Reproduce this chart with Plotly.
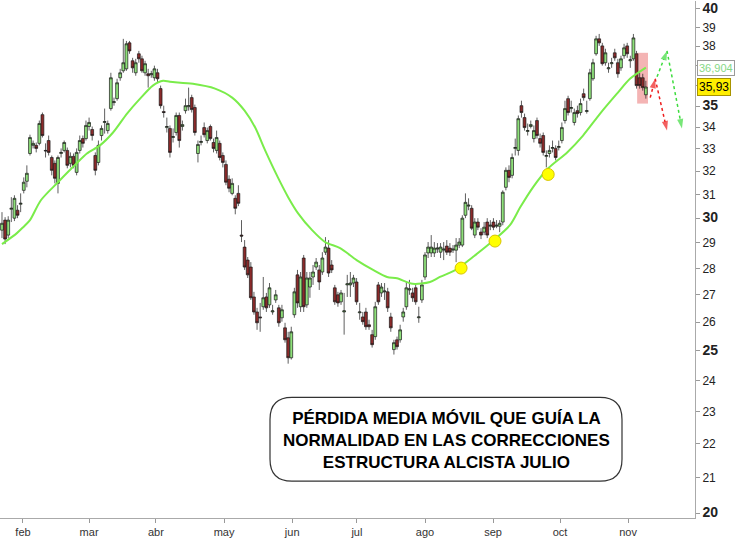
import math
import plotly.graph_objects as go

# ---------------- data ----------------
months = ["feb", "mar", "abr", "may", "jun", "jul", "ago", "sep", "oct", "nov"]
month_pos = [6.75, 28.0, 49.5, 71.4, 93.3, 114.1, 136.0, 157.9, 179.4, 201.3]

opens = [29.51, 29.92, 29.31, 30.37, 30.00, 30.33, 30.58, 31.17, 31.56, 32.79,
         33.16, 33.16, 33.25, 34.59, 32.93, 33.38, 32.61, 32.35, 31.47, 32.79,
         32.93, 32.93, 32.35, 32.66, 31.95, 32.93, 33.47, 33.47, 34.03, 33.89,
         32.70, 32.39, 33.61, 34.22, 33.84, 34.88, 35.17, 35.36, 36.39, 36.74,
         36.84, 38.18, 37.25, 36.64, 37.61, 37.35, 36.64, 36.59, 36.54, 36.39,
         36.64, 35.85, 34.74, 33.98, 33.94, 33.52, 33.75, 34.55, 34.03, 34.78,
         34.97, 35.41, 34.93, 32.79, 33.29, 33.98, 33.38, 34.03, 33.29, 32.93,
         33.25, 32.70, 32.30, 31.65, 31.04, 30.83, 31.04, 29.31, 28.83, 28.32,
         28.05, 26.92, 26.37, 26.19, 26.56, 26.92, 26.63, 26.37, 26.81, 26.52,
         26.16, 25.80, 25.45, 24.76, 26.27, 27.75, 26.56, 28.40, 26.63, 27.29,
         27.67, 28.05, 27.94, 27.86, 28.63, 28.79, 28.13, 27.26, 27.00, 26.74,
         26.37, 27.37, 27.37, 27.44, 27.48, 26.34, 26.19, 26.37, 25.91, 25.56,
         25.49, 27.37, 27.07, 27.11, 27.11, 26.19, 25.04, 25.38, 25.38, 26.19,
         26.56, 27.18, 27.07, 27.26, 26.16, 26.81, 27.67, 28.60, 28.60, 28.60,
         28.75, 28.63, 28.71, 28.87, 28.79, 28.71, 28.71, 28.91, 28.91, 30.12,
         30.50, 30.41, 29.31, 29.84, 29.43, 29.43, 29.84, 29.67, 29.84, 29.67,
         29.67, 29.84, 31.30, 32.04, 31.82, 33.02, 32.93, 35.02, 34.45, 33.80,
         34.03, 33.47, 34.31, 33.47, 33.61, 32.66, 32.79, 33.02, 33.02, 33.06,
         33.38, 34.31, 35.36, 34.88, 34.22, 34.78, 34.69, 35.60, 34.74, 35.36,
         36.34, 37.61, 38.39, 38.02, 37.15, 36.84, 37.10, 37.66, 37.15, 36.89,
         37.51, 38.02, 37.25, 37.35, 37.61, 36.39, 36.39, 35.55]
highs = [30.25, 30.04, 30.08, 30.88, 30.96, 30.54, 31.04, 31.73, 32.26, 33.65,
         33.38, 33.29, 34.31, 34.69, 33.25, 33.61, 32.70, 32.48, 32.70, 33.02,
         33.38, 33.06, 32.84, 32.79, 33.02, 33.61, 33.61, 34.31, 34.45, 34.03,
         32.84, 33.38, 34.08, 34.88, 34.31, 36.64, 35.41, 36.34, 36.84, 38.39,
         38.28, 38.28, 37.40, 37.35, 37.76, 37.51, 37.25, 36.84, 36.74, 37.00,
         36.84, 36.00, 35.02, 34.45, 34.08, 33.94, 34.69, 34.69, 34.31, 35.36,
         35.90, 35.55, 35.07, 33.38, 33.61, 34.22, 33.98, 34.12, 33.47, 33.84,
         33.38, 32.84, 32.48, 31.82, 31.69, 30.96, 31.39, 29.92, 29.11, 28.44,
         28.24, 27.11, 26.52, 26.70, 27.67, 27.07, 27.44, 26.63, 27.18, 26.63,
         26.63, 25.98, 25.66, 25.84, 27.26, 27.94, 27.86, 28.52, 27.86, 27.86,
         28.13, 28.40, 28.13, 28.63, 29.23, 29.11, 28.32, 27.37, 27.11, 27.18,
         27.07, 27.75, 27.86, 27.75, 27.63, 26.70, 26.37, 26.52, 26.09, 25.73,
         26.74, 27.48, 27.44, 27.44, 27.26, 26.34, 25.38, 25.49, 25.91, 26.52,
         27.48, 27.56, 27.26, 27.37, 26.56, 27.56, 28.63, 29.03, 29.31, 29.03,
         28.99, 28.99, 29.03, 29.11, 28.99, 28.91, 29.19, 29.19, 30.12, 31.04,
         30.83, 30.54, 30.00, 30.00, 29.59, 29.84, 30.00, 29.92, 30.00, 29.92,
         29.92, 31.17, 32.17, 32.26, 32.79, 33.47, 34.55, 35.26, 34.64, 34.17,
         34.31, 34.08, 34.45, 33.70, 33.75, 32.93, 33.16, 33.38, 33.16, 33.38,
         34.22, 35.26, 35.50, 35.26, 34.88, 35.02, 35.36, 35.85, 35.26, 36.84,
         37.35, 38.55, 38.65, 38.18, 37.87, 37.15, 37.40, 37.87, 37.35, 37.51,
         38.13, 38.18, 37.51, 38.65, 37.76, 36.64, 36.59, 36.24]
lows = [29.19, 28.95, 29.19, 29.84, 29.88, 30.00, 30.25, 31.04, 31.30, 32.70,
        33.02, 32.84, 33.16, 33.52, 32.61, 32.70, 31.82, 31.47, 31.04, 32.61,
        32.84, 32.13, 32.17, 32.13, 31.82, 32.79, 33.06, 33.38, 33.84, 33.38,
        31.82, 32.26, 33.38, 33.70, 33.70, 34.78, 35.02, 35.26, 36.24, 36.64,
        36.74, 37.61, 36.64, 36.49, 37.15, 36.64, 36.49, 35.90, 36.39, 36.24,
        36.14, 34.88, 34.45, 33.75, 32.61, 33.29, 33.61, 33.06, 33.84, 34.64,
        34.78, 34.69, 33.61, 32.39, 33.16, 33.52, 33.25, 33.38, 32.84, 32.79,
        32.48, 32.17, 31.39, 31.09, 30.96, 30.16, 30.50, 29.03, 27.94, 27.63,
        26.81, 26.27, 25.73, 25.66, 26.45, 26.37, 26.52, 26.27, 26.70, 25.84,
        26.02, 25.28, 24.56, 24.70, 26.16, 26.52, 26.37, 26.37, 26.52, 26.89,
        27.37, 27.94, 27.18, 27.75, 28.52, 27.67, 27.82, 26.63, 26.56, 26.63,
        25.56, 26.92, 26.92, 27.29, 26.63, 26.09, 25.91, 25.73, 25.73, 25.11,
        25.38, 26.63, 26.92, 26.81, 26.37, 25.66, 24.87, 25.04, 25.28, 26.02,
        26.45, 27.00, 26.74, 26.63, 25.98, 26.70, 27.56, 28.40, 28.44, 28.44,
        28.60, 28.40, 28.32, 28.52, 28.48, 28.60, 28.24, 28.79, 28.83, 30.00,
        30.33, 29.51, 29.19, 29.51, 29.15, 29.31, 29.19, 29.51, 29.51, 29.59,
        29.43, 29.71, 31.17, 31.52, 31.69, 32.70, 32.70, 34.45, 33.84, 33.61,
        33.94, 33.29, 33.47, 33.06, 32.70, 32.17, 32.61, 32.84, 32.48, 32.93,
        33.25, 34.17, 34.55, 34.69, 34.08, 34.45, 34.55, 35.26, 34.64, 35.26,
        36.24, 37.51, 38.02, 37.00, 37.00, 36.64, 36.89, 37.25, 36.39, 36.74,
        37.35, 37.40, 36.89, 37.25, 35.85, 35.85, 35.75, 35.36]
closes = [29.79, 29.15, 29.92, 30.41, 30.83, 30.12, 30.62, 31.52, 31.91, 33.52,
          33.25, 33.02, 34.17, 33.61, 32.91, 32.84, 32.04, 31.69, 32.61, 32.84,
          33.29, 32.26, 32.66, 32.26, 32.84, 33.38, 33.25, 34.08, 34.22, 33.61,
          32.04, 33.16, 33.94, 34.26, 34.17, 36.39, 35.21, 36.14, 36.64, 37.15,
          38.13, 37.76, 36.89, 37.15, 37.35, 36.74, 37.10, 36.49, 36.59, 36.84,
          36.34, 35.02, 34.69, 34.03, 32.84, 33.56, 34.55, 33.38, 34.12, 35.02,
          35.02, 34.83, 33.75, 33.20, 33.34, 33.65, 33.84, 33.47, 33.02, 33.52,
          32.61, 32.39, 31.52, 31.26, 31.47, 30.41, 30.62, 29.27, 28.05, 27.75,
          26.89, 26.37, 25.98, 26.16, 26.89, 26.52, 27.26, 26.41, 27.00, 25.98,
          26.45, 25.38, 24.76, 25.66, 27.11, 26.70, 27.67, 26.56, 27.63, 27.63,
          27.86, 28.24, 27.48, 28.40, 28.83, 27.82, 27.94, 26.74, 26.70, 27.07,
          26.41, 27.41, 27.44, 27.63, 26.74, 26.37, 26.02, 25.84, 25.84, 25.21,
          26.56, 26.74, 27.29, 27.14, 26.52, 25.80, 25.28, 25.14, 25.73, 26.37,
          27.26, 27.22, 26.89, 26.74, 26.19, 27.37, 28.52, 28.83, 28.83, 28.79,
          28.79, 28.83, 28.75, 28.63, 28.63, 28.75, 28.91, 29.03, 30.00, 30.66,
          30.54, 29.59, 29.84, 29.63, 29.31, 29.63, 29.31, 29.71, 29.63, 29.71,
          29.79, 31.09, 32.04, 31.73, 32.61, 33.06, 34.40, 34.69, 33.98, 33.84,
          34.12, 33.84, 33.61, 33.25, 32.84, 32.70, 32.93, 33.06, 32.61, 33.11,
          33.98, 34.88, 34.69, 34.93, 34.69, 34.64, 35.12, 35.41, 34.78, 36.64,
          37.15, 38.39, 38.18, 37.10, 37.66, 36.89, 37.15, 37.40, 36.59, 37.35,
          37.92, 37.61, 37.30, 38.44, 36.00, 36.00, 35.90, 35.93]

# moving average
ma_x = [0, 4.8, 6.8, 9, 12.5, 18, 24, 27.3, 31.5, 35.7, 40.2, 44.4, 48.5, 51.8,
        54, 61.4, 68.5, 74, 78, 81.4, 84.6, 88.7, 92, 95.2, 99.7, 103.9, 108.7,
        114, 119.3, 123.8, 127, 132, 137.6, 140.8, 146.3, 151.4, 157, 163.3,
        166.6, 170.7, 175.6, 181.7, 186.8, 192.3, 197.7, 201.9, 207]
ma_y = [28.95, 29.39, 29.63, 29.92, 30.75, 31.52, 32.35, 32.79, 33.16, 33.75,
        34.64, 35.36, 36.00, 36.24, 36.19, 36.09, 35.85, 35.41, 34.78, 33.98,
        32.93, 31.73, 30.88, 30.20, 29.51, 29.03, 28.79, 28.32, 27.94, 27.67,
        27.62, 27.41, 27.48, 27.67, 27.97, 28.44, 28.99, 29.71, 30.45, 31.30,
        32.13, 32.84, 33.61, 34.64, 35.60, 36.34, 36.904]

# yellow touch points
touch_x = [147.6, 158.5, 175.6]
touch_y = [28.01, 29.07, 31.86]

# scenario arrows
red_x = [208.4, 210.0, 213.8]
red_y = [35.41, 36.34, 33.84]
green_x = [210.6, 213.8, 218.6]
green_y = [36.44, 37.76, 33.94]

# highlighted zone
zone_x = [204.2, 207.7]
zone_y = [35.12, 37.66]

last_ma = 36.904
last_close = 35.93

y_ticks = list(range(20, 41))
y_hidden = [36, 37]  # labels covered by the value boxes

# ---------------- figure ----------------
W, H = 745, 538
ML, MR, MT, MB = 0, 50, 0, 19
PW, PH = W - ML - MR, H - MT - MB

fig = go.Figure()

fig.add_shape(type="rect", xref="x", yref="y",
              x0=zone_x[0], x1=zone_x[1], y0=zone_y[0], y1=zone_y[1],
              fillcolor="#f4b4b4", line_width=0, layer="below")

fig.add_trace(go.Candlestick(
    x=list(range(len(opens))), open=opens, high=highs, low=lows, close=closes,
    increasing=dict(fillcolor="#8ee07a", line=dict(color="#1a1a1a", width=0.7)),
    decreasing=dict(fillcolor="#8b2a2a", line=dict(color="#1a1a1a", width=0.7)),
    whiskerwidth=0, showlegend=False, hoverinfo="skip"))

fig.add_trace(go.Scatter(x=ma_x, y=ma_y, mode="lines",
                         line=dict(color="#7aec4a", width=2, shape="spline", smoothing=0.8),
                         showlegend=False, hoverinfo="skip"))

fig.add_trace(go.Scatter(x=touch_x, y=touch_y, mode="markers",
                         marker=dict(size=12, color="#ffff00", line=dict(color="#d8c400", width=1)),
                         showlegend=False, hoverinfo="skip"))

for xs, ys, col in [(red_x, red_y, "#ee1c1c"), (green_x, green_y, "#3ddc3d")]:
    fig.add_trace(go.Scatter(x=xs, y=ys, mode="lines+markers",
                             line=dict(color=col, width=1.5, dash="dot"),
                             marker=dict(symbol="arrow", size=[0, 10, 10], color=col,
                                         angleref="previous", line=dict(width=0)),
                             showlegend=False, hoverinfo="skip"))

# rounded text box (paper coordinates built from pixel layout)
bx0, bx1, by0, by1, r = 270, 622, 398, 482, 22
def px(v):
    return v / PW
def py(v):
    return 1 - v / PH
path = (f"M {px(bx0 + r)},{py(by0)} L {px(bx1 - r)},{py(by0)} "
        f"Q {px(bx1)},{py(by0)} {px(bx1)},{py(by0 + r)} "
        f"L {px(bx1)},{py(by1 - r)} Q {px(bx1)},{py(by1)} {px(bx1 - r)},{py(by1)} "
        f"L {px(bx0 + r)},{py(by1)} Q {px(bx0)},{py(by1)} {px(bx0)},{py(by1 - r)} "
        f"L {px(bx0)},{py(by0 + r)} Q {px(bx0)},{py(by0)} {px(bx0 + r)},{py(by0)} Z")
fig.add_shape(type="path", xref="paper", yref="paper", path=path,
              line=dict(color="#333333", width=1.2), fillcolor="rgba(255,255,255,0)")

fig.add_annotation(xref="paper", yref="paper", x=px((bx0 + bx1) / 2), y=py((by0 + by1) / 2 + 1),
                   xanchor="center", yanchor="middle",
                   text="<b>PÉRDIDA MEDIA MÓVIL QUE GUÍA LA<br>NORMALIDAD EN LAS CORRECCIONES<br>ESTRUCTURA ALCISTA JULIO</b>",
                   showarrow=False, align="center",
                   font=dict(family="Liberation Sans, Arial, sans-serif", size=17, color="#000000"))

fig.add_annotation(xref="paper", yref="y", x=px(PW + 2), y=math.log10(last_ma),
                   xanchor="left", yanchor="middle", text=f"{last_ma:.3f}".replace(".", ","), showarrow=False,
                   font=dict(family="Liberation Sans, Arial", size=11, color="#86d886"),
                   bgcolor="#ffffff", bordercolor="#9a9a9a", borderwidth=1, borderpad=1)
fig.add_annotation(xref="paper", yref="y", x=px(PW + 2), y=math.log10(last_close),
                   xanchor="left", yanchor="middle", text=f"{last_close:.2f}".replace(".", ","), showarrow=False,
                   font=dict(family="Liberation Sans, Arial", size=12, color="#000000"),
                   bgcolor="#ffee00", bordercolor="#a89400", borderwidth=1, borderpad=1)

y_text = []
for v in y_ticks:
    if v in y_hidden:
        y_text.append("")
    elif v % 5 == 0:
        y_text.append(f"<b><span style='font-size:14px'>{v}</span></b>")
    else:
        y_text.append(str(v))

fig.update_layout(
    width=W, height=H, margin=dict(l=ML, r=MR, t=MT, b=MB),
    paper_bgcolor="white", plot_bgcolor="white",
    boxgap=0.05, boxgroupgap=0.05,
    xaxis=dict(range=[-0.64, 222.8], tickvals=month_pos, ticktext=months,
               ticks="outside", ticklen=4, tickcolor="#999", showline=True, linecolor="#aaa",
               showgrid=False, zeroline=False, rangeslider=dict(visible=False),
               tickfont=dict(family="Liberation Sans, Arial", size=11, color="#333")),
    yaxis=dict(type="log", side="right", range=[1.29806, 1.60682],
               tickvals=y_ticks, ticktext=y_text, ticks="outside", ticklen=4,
               tickcolor="#999", showline=True, linecolor="#aaa",
               showgrid=False, zeroline=False, ticklabeloverflow="allow",
               tickfont=dict(family="Liberation Sans, Arial", size=12, color="#222")),
)

fig.write_html("out.html", config={"displayModeBar": False},
               post_script="document.body.style.margin='0px';")
